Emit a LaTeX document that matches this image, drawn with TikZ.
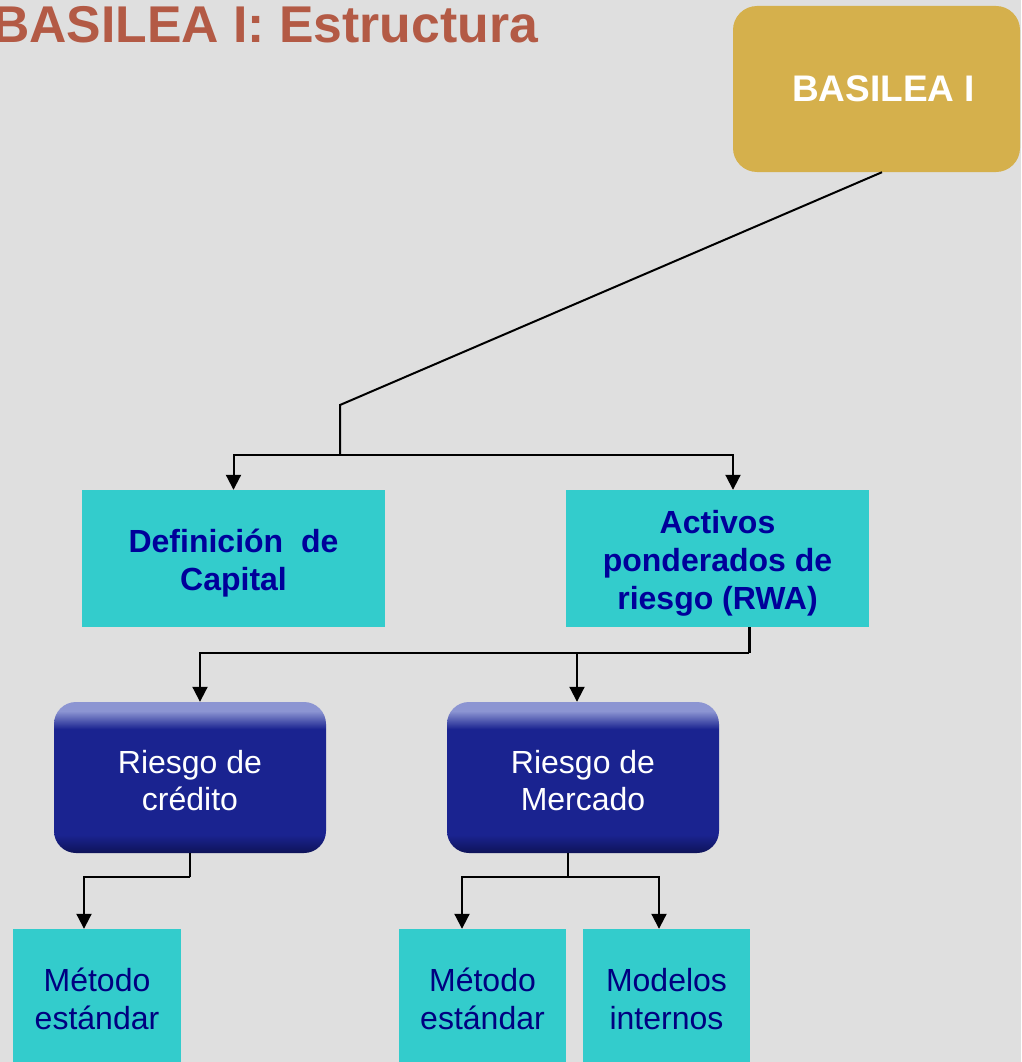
\documentclass[tikz,border=0pt]{standalone}
\usepackage{fontspec}
\setmainfont{Liberation Sans}
\usetikzlibrary{arrows.meta,calc}
\definecolor{bgc}{HTML}{DFDFDF}
\definecolor{titlec}{HTML}{B35A45}
\definecolor{goldc}{HTML}{D5B04C}
\definecolor{cyanc}{HTML}{33CCCC}
\definecolor{navyt}{HTML}{00009A}
\definecolor{navyn}{HTML}{000080}
\definecolor{bmain}{HTML}{1A2390}
\definecolor{blight}{HTML}{8C95D2}
\definecolor{bdark}{HTML}{0E1358}
\pgfdeclareverticalshading{btnshade}{100bp}{color(0bp)=(bdark); color(25bp)=(bdark); color(31bp)=(bmain); color(66bp)=(bmain); color(72bp)=(blight); color(75bp)=(blight); color(100bp)=(blight)}
\begin{document}
\begin{tikzpicture}[x=1pt,y=-1pt,
  cbox/.style={fill=cyanc, draw=none, inner sep=0pt},
  boldtxt/.style={align=center, inner sep=0pt, font=\bfseries\fontsize{32}{38}\selectfont, text=navyt},
  plaintxt/.style={align=center, inner sep=0pt, font=\fontsize{32}{38}\selectfont, text=navyn},
  rbox/.style={shading=btnshade, draw=none, rounded corners=22pt, inner sep=0pt},
  rtxt/.style={align=center, inner sep=0pt, text=white, font=\fontsize{32}{37}\selectfont},
  conn/.style={line width=2pt, draw=black},
  arr/.style={conn, -{Triangle[length=15pt,width=15pt]}}
]
\useasboundingbox (0,0) rectangle (1021,1062);
\fill[bgc] (0,0) rectangle (1021,1062);

\node[anchor=base west, inner sep=0pt, text=titlec, font=\bfseries\fontsize{51.7}{60}\selectfont] (title) at (-8,43) {BASILEA I: Estructura};

\node[fill=goldc, rounded corners=24pt, minimum width=287pt, minimum height=166pt, inner sep=0pt, text=white, font=\bfseries\fontsize{37}{42}\selectfont] (b) at (876.5,89) {\hspace*{14pt}BASILEA I};

\node[cbox, minimum width=303pt, minimum height=137pt] (def) at (233.5,558.5) {};
\node[boldtxt] (deft) at ([yshift=-5pt]def.center) {Definición\ \ de\\Capital};
\node[cbox, minimum width=303pt, minimum height=137pt] (act) at (717.5,558.5) {};
\node[boldtxt] (actt) at ([yshift=-5pt]act.center) {Activos\\ponderados de\\riesgo (RWA)};

\node[rbox, minimum width=272pt, minimum height=151pt] (rc) at (190,777.5) {};
\node[rtxt] (rct) at ([yshift=-3pt]rc.center) {Riesgo de\\crédito};
\node[rbox, minimum width=272pt, minimum height=151pt] (rm) at (583,777.5) {};
\node[rtxt] (rmt) at ([yshift=-3pt]rm.center) {Riesgo de\\Mercado};

\node[cbox, minimum width=168pt, minimum height=140pt] (m1) at (97,999) {};
\node[plaintxt] (m1t) at (m1.center) {Método\\estándar};
\node[cbox, minimum width=167pt, minimum height=140pt] (m2) at (482.5,999) {};
\node[plaintxt] (m2t) at (m2.center) {Método\\estándar};
\node[cbox, minimum width=167pt, minimum height=140pt] (m3) at (666.5,999) {};
\node[plaintxt] (m3t) at (m3.center) {Modelos\\internos};

% connector end points on the boxes
\coordinate (bs) at ([xshift=5.5pt]b.south);
\coordinate (actn) at ([xshift=15.5pt]act.north);
\coordinate (acts) at ([xshift=31.5pt]act.south);
\coordinate (rcn) at ([xshift=10pt]rc.north);
\coordinate (rmn) at ([xshift=-6pt]rm.north);
\coordinate (rms) at ([xshift=-15pt]rm.south);
\coordinate (m1n) at ([xshift=-13pt]m1.north);
\coordinate (m2n) at ([xshift=-20.5pt]m2.north);
\coordinate (m3n) at ([xshift=-7.5pt]m3.north);

\coordinate (j1) at (340,405);
\coordinate (j2) at (340,455);
\coordinate (j3) at (749,653);
\coordinate (j4) at (190,877);
\coordinate (j5) at (568,877);

\draw[conn] (bs) -- (j1) -- (j2);
\draw[arr] (j2) -- (j2 -| def.north) -- (def.north);
\draw[arr] (j2) -- (j2 -| actn) -- (actn);

\draw[conn, line width=3pt] (acts) -- (j3);
\draw[arr] (j3) -- (j3 -| rcn) -- (rcn);
\draw[arr] (j3 -| rmn) -- (rmn);

\draw[conn] (rc.south) -- (j4);
\draw[arr] (j4) -- (j4 -| m1n) -- (m1n);

\draw[conn] (rms) -- (j5);
\draw[arr] (j5) -- (j5 -| m2n) -- (m2n);
\draw[arr] (j5) -- (j5 -| m3n) -- (m3n);
\end{tikzpicture}
\end{document}
